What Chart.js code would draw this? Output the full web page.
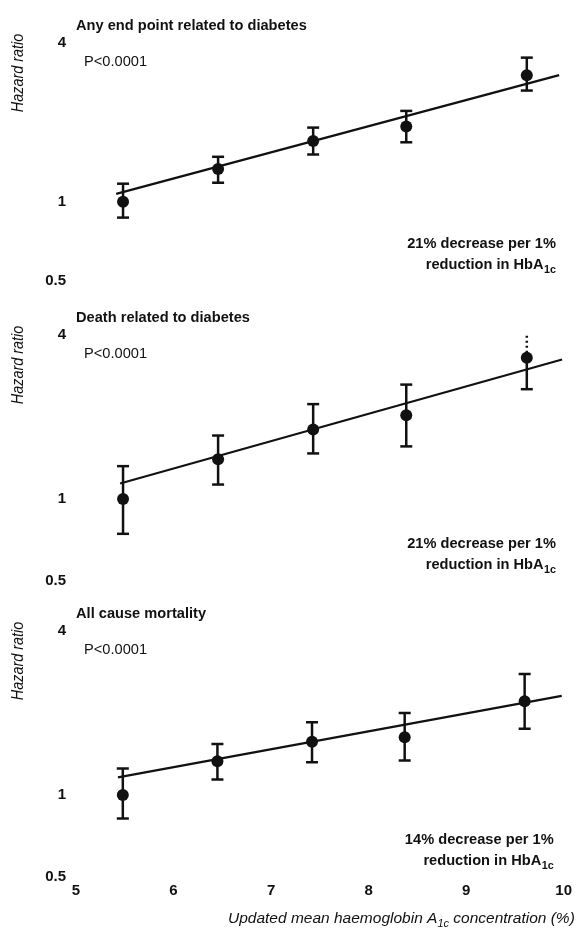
<!DOCTYPE html>
<html>
<head>
<meta charset="utf-8">
<script src="https://cdn.jsdelivr.net/npm/chart.js@4/dist/chart.umd.min.js"></script>
<style>
  html, body { margin: 0; padding: 0; background: #fff; }
  #wrap { position: relative; width: 577px; height: 936px; overflow: hidden; }
  canvas { position: absolute; left: 0; }
</style>
</head>
<body>
<div id="wrap">
  <canvas id="panelAny" width="577" height="300" style="top:0"></canvas>
  <canvas id="panelDeath" width="577" height="300" style="top:300px"></canvas>
  <canvas id="panelAll" width="577" height="336" style="top:600px"></canvas>
</div>
<script>
(function () {
  // HbA1c category means (x) shared by all three panels
  const hba1c = [5.48, 6.45, 7.42, 8.37, 9.6];
  const xTickValues = [5, 6, 7, 8, 9, 10];
  const yTickValues = [0.5, 1, 4];

  // Any end point related to diabetes
  const anyHR = [1.0, 1.33, 1.70, 1.93, 3.02];
  const anyLow = [0.87, 1.18, 1.51, 1.68, 2.64];
  const anyHigh = [1.17, 1.48, 1.91, 2.21, 3.52];
  const anyFitX = [5.41, 9.93];
  const anyFitY = [1.07, 3.02];

  // Death related to diabetes
  const deathHR = [1.0, 1.40, 1.80, 2.03, 3.30];
  const deathLow = [0.745, 1.13, 1.47, 1.56, 2.53];
  const deathHigh = [1.32, 1.71, 2.23, 2.63, 4.0];
  const deathFitX = [5.45, 9.96];
  const deathFitY = [1.14, 3.25];

  // All cause mortality
  const allHR = [1.0, 1.33, 1.57, 1.63, 2.21];
  const allLow = [0.82, 1.14, 1.32, 1.34, 1.75];
  const allHigh = [1.25, 1.54, 1.85, 2.0, 2.78];
  const allFitX = [5.43, 9.98];
  const allFitY = [1.16, 2.31];

  const FONT = '"Liberation Sans", Arial, sans-serif';
  const INK = "#111";

  function drawScaled(ctx, text, x, y, font, align, sx) {
    ctx.save();
    ctx.font = font;
    ctx.textAlign = align;
    ctx.translate(x, y);
    ctx.scale(sx, 1);
    ctx.fillText(text, 0, 0);
    ctx.restore();
  }

  function textWidth(ctx, text, font, sx) {
    ctx.save();
    ctx.font = font;
    const w = ctx.measureText(text).width * sx;
    ctx.restore();
    return w;
  }

  const panelText = {
    id: "panelText",
    afterDraw(chart, args, opts) {
      const ctx = chart.ctx;
      const a = chart.chartArea;
      ctx.save();
      ctx.fillStyle = INK;
      ctx.textBaseline = "alphabetic";
      drawScaled(ctx, opts.title, a.left, a.top - 13, `bold 15px ${FONT}`, "left", 0.975);
      drawScaled(ctx, "P<0.0001", a.left + 8, a.top + 23, `15px ${FONT}`, "left", 0.975);

      // vertical axis label, up near the top of each panel
      ctx.save();
      ctx.translate(19, a.top + 30);
      ctx.rotate(-Math.PI / 2);
      ctx.scale(0.9, 1);
      ctx.font = `italic 16px ${FONT}`;
      ctx.textAlign = "center";
      ctx.textBaseline = "middle";
      ctx.fillText("Hazard ratio", 0, 0);
      ctx.restore();

      const right = a.right - 10;
      drawScaled(ctx, opts.note, right, a.bottom - 33, `bold 15px ${FONT}`, "right", 0.975);
      const subFont = `bold 11px ${FONT}`;
      const subW = textWidth(ctx, "1c", subFont, 0.975);
      drawScaled(ctx, "1c", right, a.bottom - 8, subFont, "right", 0.975);
      drawScaled(ctx, "reduction in HbA", right - subW - 0.5, a.bottom - 12, `bold 15px ${FONT}`, "right", 0.975);

      if (opts.xTitle) {
        let x = 228;
        const y = 923;
        const base = `italic 15.5px ${FONT}`;
        const sub = `italic 11px ${FONT}`;
        const yOff = chart.canvas.offsetTop;
        const parts = [
          ["Updated mean haemoglobin A", base, 0],
          ["1c", sub, 4],
          [" concentration (%)", base, 0]
        ];
        parts.forEach(([t, f, dy]) => {
          drawScaled(ctx, t, x, y - yOff + dy, f, "left", 1);
          x += textWidth(ctx, t, f, 1);
        });
      }
      ctx.restore();
    }
  };

  function errorBarSets(xs, mid, low, high, dottedTop) {
    const sets = [];
    xs.forEach((x, i) => {
      if (dottedTop && dottedTop[i]) {
        sets.push({
          data: [{ x, y: low[i] }, { x, y: mid[i] }],
          showLine: true, borderColor: INK, borderWidth: 2.5,
          pointStyle: "line", pointRadius: [6, 0], pointBorderWidth: 2.5,
          pointBorderColor: INK, pointHoverRadius: 0
        });
        sets.push({
          data: [{ x, y: mid[i] }, { x, y: high[i] }],
          showLine: true, borderColor: INK, borderWidth: 2.5, borderDash: [2, 3],
          pointRadius: 0, pointHoverRadius: 0
        });
      } else {
        sets.push({
          data: [{ x, y: low[i] }, { x, y: high[i] }],
          showLine: true, borderColor: INK, borderWidth: 2.5,
          pointStyle: "line", pointRadius: 6, pointBorderWidth: 2.5,
          pointBorderColor: INK, pointHoverRadius: 0
        });
      }
    });
    return sets;
  }

  function makePanel(canvasId, cfg) {
    const datasets = [
      {
        data: hba1c.map((x, i) => ({ x, y: cfg.hr[i] })),
        pointRadius: 6, pointBackgroundColor: INK, pointBorderColor: INK,
        pointBorderWidth: 0, showLine: false
      },
      {
        data: cfg.fitX.map((x, i) => ({ x, y: cfg.fitY[i] })),
        showLine: true, borderColor: INK, borderWidth: 2.2, pointRadius: 0
      }
    ].concat(errorBarSets(hba1c, cfg.hr, cfg.low, cfg.high, cfg.dottedTop));

    return new Chart(document.getElementById(canvasId), {
      type: "scatter",
      data: { datasets },
      plugins: [panelText],
      options: {
        responsive: false,
        animation: false,
        devicePixelRatio: 1,
        layout: { padding: cfg.padding },
        plugins: {
          legend: { display: false },
          tooltip: { enabled: false },
          panelText: { title: cfg.title, note: cfg.note, xTitle: cfg.showX }
        },
        scales: {
          x: {
            type: "linear",
            display: cfg.showX,
            min: 5,
            max: 10,
            afterBuildTicks: (scale) => { scale.ticks = xTickValues.map((v) => ({ value: v })); },
            afterFit: (scale) => { if (cfg.showX) scale.height = 59; },
            grid: { display: false, drawTicks: false },
            border: { display: false },
            ticks: {
              padding: 5,
              color: INK,
              font: { family: FONT, size: 15, weight: "bold" },
              callback: (v) => String(v)
            }
          },
          y: {
            type: "logarithmic",
            min: 0.5,
            max: 4,
            afterBuildTicks: (scale) => { scale.ticks = yTickValues.map((v) => ({ value: v })); },
            afterFit: (scale) => { scale.width = 76; },
            grid: { display: false, drawTicks: false },
            border: { display: false },
            ticks: {
              padding: 10,
              color: INK,
              font: { family: FONT, size: 15, weight: "bold" },
              callback: (v) => String(v)
            }
          }
        }
      }
    });
  }

  makePanel("panelAny", {
    title: "Any end point related to diabetes",
    note: "21% decrease per 1%",
    hr: anyHR, low: anyLow, high: anyHigh, fitX: anyFitX, fitY: anyFitY,
    showX: false,
    padding: { top: 43, bottom: 12, left: 0, right: 11 }
  });

  makePanel("panelDeath", {
    title: "Death related to diabetes",
    note: "21% decrease per 1%",
    hr: deathHR, low: deathLow, high: deathHigh, fitX: deathFitX, fitY: deathFitY,
    dottedTop: [false, false, false, false, true],
    showX: false,
    padding: { top: 35, bottom: 18, left: 0, right: 11 }
  });

  makePanel("panelAll", {
    title: "All cause mortality",
    note: "14% decrease per 1%",
    hr: allHR, low: allLow, high: allHigh, fitX: allFitX, fitY: allFitY,
    showX: true,
    padding: { top: 31, bottom: 0, left: 0, right: 11 }
  });
}());
</script>
</body>
</html>
